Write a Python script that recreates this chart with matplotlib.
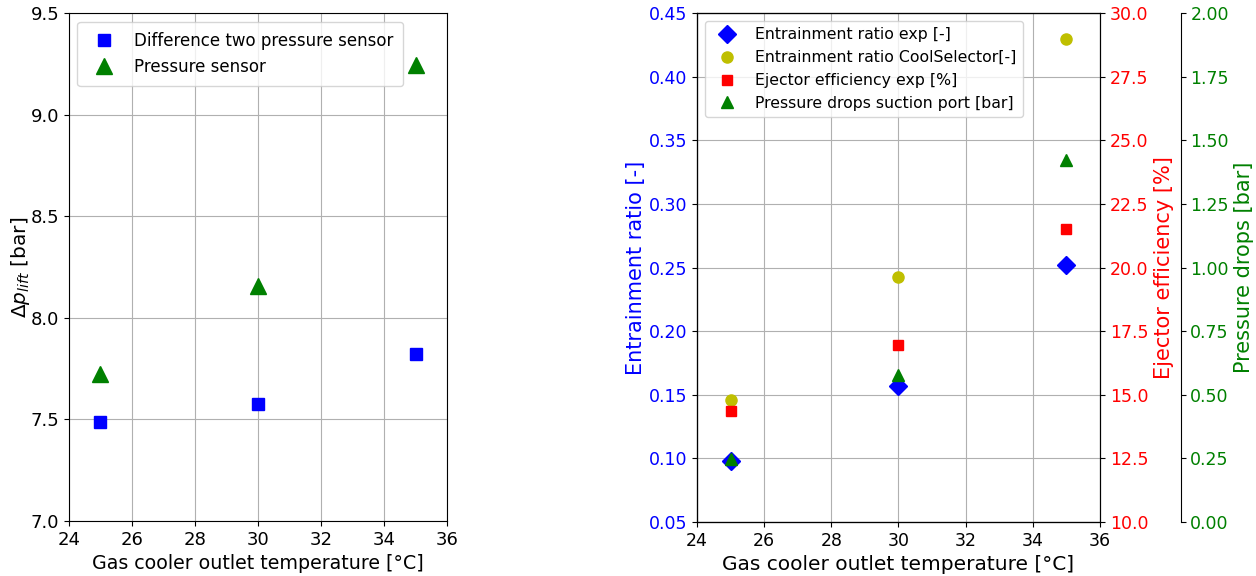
import matplotlib.pyplot as plt

# gas cooler outlet temperature [°C]
t_gc = [25, 30, 35]

# lift pressure [bar]
dp_two_sensors = [7.485, 7.578, 7.824]
dp_sensor = [7.725, 8.155, 9.245]

# ejector performance
er_exp = [0.098, 0.157, 0.252]
er_coolsel = [0.146, 0.243, 0.430]
eff_exp = [14.36, 16.96, 21.5]
dp_suction = [0.248, 0.578, 1.425]

lab_x = 'Gas cooler outlet temperature [°C]'

fig = plt.figure(figsize=(12.56, 5.76), dpi=100)

# left: lift pressure
ax = fig.add_axes([0.0549, 0.0955, 0.3011, 0.8815])
ax.plot(t_gc, dp_two_sensors, 's', color='b', markersize=8.5, label='Difference two pressure sensor')
ax.plot(t_gc, dp_sensor, '^', color='g', markersize=11, label='Pressure sensor')
ax.set_xlim(24, 36)
ax.set_ylim(7.0, 9.5)
ax.set_yticks([7.0, 7.5, 8.0, 8.5, 9.0, 9.5])
ax.grid(True)
ax.set_axisbelow(True)
ax.set_xlabel(lab_x, fontsize=13.7)
ax.set_ylabel(r'$\Delta p_{lift}$ [bar]', fontsize=14.5, labelpad=-1)
ax.tick_params(labelsize=13)
ax.legend(loc='upper left', fontsize=12, borderpad=0.6)

# right: entrainment ratio, ejector efficiency, suction pressure drop
ax1 = fig.add_axes([0.5549, 0.0938, 0.3209, 0.8832])
l1, = ax1.plot(t_gc, er_exp, 'D', color='b', markersize=9, label='Entrainment ratio exp [-]')
l2, = ax1.plot(t_gc, er_coolsel, 'o', color='y', markersize=8, label='Entrainment ratio CoolSelector[-]')
ax1.set_xlim(24, 36)
ax1.set_ylim(0.05, 0.45)
ax1.grid(True)
ax1.set_axisbelow(True)
ax1.set_xlabel(lab_x, fontsize=14.5)
ax1.set_ylabel('Entrainment ratio [-]', color='b', fontsize=15, labelpad=2)
ax1.tick_params(labelsize=12.5)
ax1.tick_params(axis='y', labelcolor='b')

ax2 = ax1.twinx()
l3, = ax2.plot(t_gc, eff_exp, 's', color='r', markersize=7.5, label='Ejector efficiency exp [%]')
ax2.set_ylim(10, 30)
ax2.set_ylabel('Ejector efficiency [%]', color='r', fontsize=15)
ax2.tick_params(axis='y', labelcolor='r', labelsize=12.5)

ax3 = ax1.twinx()
ax3.spines['right'].set_position(('axes', 1.2))
l4, = ax3.plot(t_gc, dp_suction, '^', color='g', markersize=8, label='Pressure drops suction port [bar]')
ax3.set_ylim(0, 2)
ax3.set_ylabel('Pressure drops [bar]', color='g', fontsize=15)
ax3.tick_params(axis='y', labelcolor='g', labelsize=12.5)

ax3.legend(handles=[l1, l2, l3, l4], loc='upper left', fontsize=11.3)

plt.savefig('out.png', dpi=100)
